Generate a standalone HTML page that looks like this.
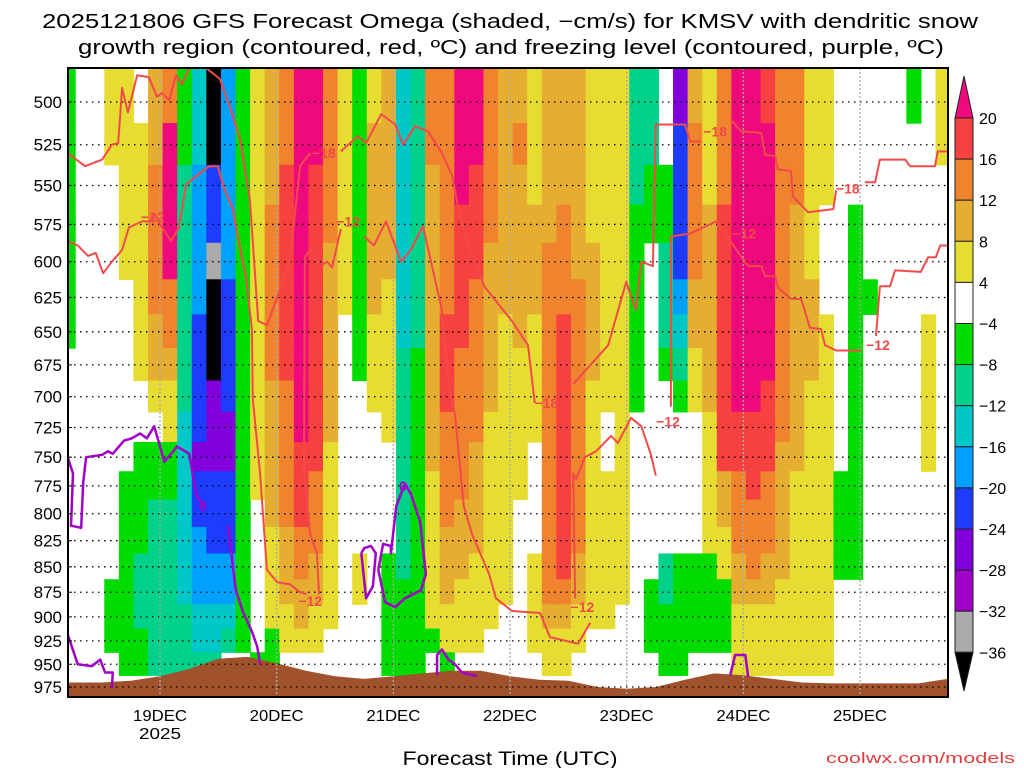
<!DOCTYPE html>
<html><head><meta charset="utf-8"><style>
html,body{margin:0;padding:0;background:#fff;}
svg{display:block;}
text{font-family:"Liberation Sans",sans-serif;}
</style></head><body>
<svg id="chart" width="1024" height="768" viewBox="0 0 1024 768" xmlns="http://www.w3.org/2000/svg">
<defs><clipPath id="plotclip"><rect x="68" y="68" width="880" height="629"/></clipPath></defs>
<text x="510" y="28" font-size="20" text-anchor="middle" textLength="936" lengthAdjust="spacingAndGlyphs">2025121806 GFS Forecast Omega (shaded, −cm/s) for KMSV with dendritic snow</text>
<text x="511" y="54" font-size="20" text-anchor="middle" textLength="866" lengthAdjust="spacingAndGlyphs">growth region (contoured, red, ºC) and freezing level (contoured, purple, ºC)</text>
<g id="cells" clip-path="url(#plotclip)"></g>
<g id="terrain" clip-path="url(#plotclip)"></g>
<g id="grid"></g>
<g id="contours" clip-path="url(#plotclip)"></g>
<rect x="68" y="68" width="880" height="629" fill="none" stroke="#000" stroke-width="2"/>
<g id="yaxis"></g>
<g id="xaxis"></g>
<text x="510" y="765" font-size="19" text-anchor="middle" textLength="215" lengthAdjust="spacingAndGlyphs">Forecast Time (UTC)</text>
<text x="1015" y="763" font-size="15" text-anchor="end" fill="#e03c3c" textLength="189" lengthAdjust="spacingAndGlyphs">coolwx.com/models</text>
<g id="colorbar"></g>
</svg>
<script>
// ---- data ----
const levels = [500,525,550,575,600,625,650,675,700,725,750,775,800,825,850,875,900,925,950,975];
const stepHours = 3;
const omega = [
[-6,-6,-6,-6,-6,-6,-6,0,0,0,0,0,0,0,0,0,0,0,0,0],
[0,0,0,0,0,0,0,0,0,0,0,0,0,0,0,0,0,0,0,0],
[0,0,0,0,0,0,0,0,0,0,0,0,0,0,0,0,0,0,0,0],
[6,6,0,0,0,0,0,0,0,0,0,0,0,0,0,-6,-6,-6,0,0],
[6,6,6,6,6,0,0,0,0,0,0,-6,-6,-6,-6,-6,-6,-6,-6,0],
[0,6,6,6,6,6,6,6,0,0,-6,-6,-6,-6,-10,-10,-10,-6,-6,0],
[10,10,14,14,14,14,10,10,6,0,-6,-6,-10,-10,-10,-10,-10,-10,-10,0],
[14,22,22,22,22,14,14,10,6,6,-6,-6,-10,-10,-10,-10,-10,-10,-10,0],
[-6,-6,-10,-10,-10,-10,-10,-10,-10,-14,-14,-14,-14,-14,-14,-14,-10,-10,-10,0],
[-14,-14,-18,-18,-18,-18,-22,-22,-22,-22,-26,-22,-22,-18,-18,-18,-14,-14,-10,0],
[-40,-40,-22,-22,-34,-40,-40,-40,-26,-26,-26,-22,-22,-22,-18,-18,-14,-14,-10,0],
[-18,-18,-18,-18,-18,-22,-22,-22,-22,-26,-26,-22,-22,-22,-18,-18,-14,-10,0,0],
[-6,-6,-6,-6,-6,-6,-6,-6,-6,-6,-6,-6,-6,-6,-6,-6,-6,-6,0,0],
[6,6,6,6,6,6,6,6,6,6,6,6,0,0,0,0,0,0,-6,0],
[10,10,10,14,14,14,14,14,10,10,10,10,10,6,6,6,6,-6,-6,0],
[14,14,18,18,18,18,18,18,14,14,14,14,14,10,10,10,6,6,0,0],
[22,22,22,22,22,22,22,22,22,22,18,18,18,14,14,10,10,6,0,0],
[22,22,18,18,18,18,18,18,18,18,18,14,14,14,10,10,6,6,0,0],
[14,14,14,14,10,10,10,10,10,10,6,6,6,6,6,6,6,0,0,0],
[6,6,6,6,6,6,0,0,0,0,0,0,0,0,0,0,0,0,0,0],
[-6,-6,-6,-6,-6,-6,-6,-6,0,0,0,0,0,0,6,6,0,0,0,0],
[6,10,10,10,10,10,6,6,6,0,0,0,0,0,0,0,0,0,0,0],
[10,10,10,10,10,6,6,6,6,6,0,0,0,0,-6,-6,-6,-6,-6,0],
[-14,-14,-14,-14,-14,-14,-14,-10,-10,-10,-10,-10,-10,-10,-10,-6,-6,-6,-6,0],
[-10,-10,-10,-10,-10,-10,-10,-6,-6,-6,-6,-6,-6,-6,-6,-6,-6,-6,-6,0],
[14,14,10,10,10,10,10,10,10,10,10,6,6,6,6,6,6,-6,0,0],
[14,14,14,14,14,14,18,18,18,14,14,14,14,10,10,10,6,6,-6,0],
[22,22,22,18,18,18,18,14,14,14,14,14,10,10,10,6,6,6,0,0],
[22,22,18,18,18,14,14,14,14,14,10,10,10,10,6,6,6,6,0,0],
[14,14,14,14,10,10,10,10,10,6,6,6,6,6,6,6,6,0,0,0],
[10,10,10,10,10,10,6,6,6,6,6,6,6,6,6,6,0,0,0,0],
[10,14,10,10,10,10,10,6,6,6,6,6,0,0,0,0,0,0,0,0],
[6,6,6,10,10,10,6,6,6,6,0,0,0,0,6,6,6,6,0,0],
[10,10,10,10,14,14,14,14,14,14,14,14,14,14,14,14,10,6,6,0],
[10,10,10,14,14,14,18,18,18,18,18,18,18,18,18,14,10,6,6,0],
[10,10,10,10,10,14,14,14,14,14,14,14,14,14,10,10,6,6,0,0],
[6,6,6,6,10,10,10,10,6,6,6,6,6,6,6,6,6,0,0,0],
[6,6,6,6,6,6,6,6,6,0,0,6,6,6,6,6,6,0,0,0],
[6,6,6,6,6,6,6,6,6,6,6,6,6,6,6,6,0,0,0,0],
[-10,-10,-10,-6,-6,-6,-6,-6,-6,0,0,0,0,0,0,0,0,0,0,0],
[-10,-10,-6,-6,0,0,0,0,0,0,0,0,0,0,0,-6,-6,-6,0,0],
[0,0,-6,-6,-10,-10,-10,-6,0,0,0,0,0,0,-10,-10,-6,-6,-6,0],
[-26,-22,-22,-22,-22,-18,-14,-10,-6,0,0,0,0,0,-6,-6,-6,-6,-6,0],
[10,14,14,14,14,10,10,6,6,0,0,0,0,0,-6,-6,-6,-6,0,0],
[6,6,6,10,10,10,10,10,10,6,6,6,6,6,-6,-6,-6,-6,0,0],
[14,14,14,18,18,18,18,18,18,18,18,10,10,6,6,-6,-6,-6,0,0],
[22,22,22,22,22,22,22,22,22,18,18,14,14,14,10,10,6,6,6,0],
[22,22,22,22,22,22,22,22,22,18,18,18,14,14,14,10,6,6,6,0],
[18,22,22,22,22,22,22,22,18,18,18,14,14,14,10,10,6,6,6,0],
[14,14,14,14,14,14,14,14,14,14,10,10,10,10,10,6,6,6,6,0],
[14,14,14,10,10,10,10,10,10,10,10,6,6,6,6,6,6,6,6,0],
[6,6,6,6,6,10,10,10,6,6,6,6,6,6,6,6,6,6,6,0],
[6,6,6,0,0,0,6,6,6,6,6,6,6,6,6,6,6,6,6,0],
[0,0,0,0,0,0,0,0,0,0,0,-6,-6,-6,-6,0,0,0,0,0],
[0,0,0,-6,-6,-6,-6,-6,-6,-6,-6,-6,-6,-6,-6,0,0,0,0,0],
[0,0,0,0,0,-6,0,0,0,0,0,0,0,0,0,0,0,0,0,0],
[0,0,0,0,0,0,0,0,0,0,0,0,0,0,0,0,0,0,0,0],
[0,0,0,0,0,0,0,0,0,0,0,0,0,0,0,0,0,0,0,0],
[-6,0,0,0,0,0,0,0,0,0,0,0,0,0,0,0,0,0,0,0],
[0,0,0,0,0,0,6,6,6,6,6,0,0,0,0,0,0,0,0,0],
[6,6,0,0,0,0,0,0,0,0,0,0,0,0,0,0,0,0,0,0]
];
const surfaceHours = [0,6,12,18,24,30,36,42,48,54,60,66,72,78,84,90,96,102,108,114,120,126,132,138,144,150,156,162,168,174,180];
const surfacePressure = [970,970,968,963,955,944,942,949,957,963,966,963,960,957,957,963,967,968,975,977,975,967,960,962,966,970,971,971,971,971,966];
const dayLabels = ["19DEC","20DEC","21DEC","22DEC","23DEC","24DEC","25DEC"];
const dayHours = [18,42,66,90,114,138,162];
const cbLevels = [20,16,12,8,4,-4,-8,-12,-16,-20,-24,-28,-32,-36];
const cbColors = ["#f74040","#ef832e","#e5ae31","#e6dc32","#ffffff","#00dc00","#00d28c","#00c8c8","#00a0ff","#1e3cff","#8200dc","#a000c8","#aaaaaa"];
// contours: [hours], [hPa]
const red18A_h=[-1,2.6,6.1,8.1,9.4,10.2,11.4,13.3,15.7,17.4,18.4,19.9,21.3,22.5,24];
const red18A_p=[530,538,534,525,524,492,506,485,486,497,495,499,485,490,481];
const red18B_h=[27.5,30.3,32.4,34.5,36.5,38.2,40,42.1,44.7,46.8,48.9];
const red18B_p=[481,487,503,522,559,642,645,625,600,538,530];
const red18C_h=[55.2,58.7,60.4,63.5,66.4,68,70.5,73.1,76,78.1,79.7,82.2,84.7,90.4,93.7,95.1];
const red18C_p=[529,520,524,507,513,525,514,517,530,544,570,594,617,642,660,705];
const red18D_h=[103,110.2,113.9,115.9,117,119.4,120,126,127.1,129.3];
const red18D_p=[690,660,614,634,600,603,513,513,523,523];
const red18E_h=[135.3,137.6,141.7,142.5,144.6,145.1,147.8,148.2,151.3,156.5,157.1];
const red18E_p=[510,517,518,531,532,540,541,557,567,565,553];
const red18F_h=[163,165.1,166.1,171.3,172.3,177.4,178,180.2];
const red18F_p=[548,548,534,534,538,538,529,529];
const red12A_h=[-1,1.1,3.2,4.8,6.3,8.1,10.2,11.6,14.3,15.9,16.8,18.2,20.3,21.9,23.4,28.1,29.9,31.2,33,34,35.7,36.9,37.1,38.6,40,42.1,44.7,46.8,48.2];
const red12A_p=[586,589,596,594,608,600,592,577,573,573,568,576,586,577,549,538,538,552,565,583,611,648,702,764,853,865,867,875,877];
const red12B_h=[50.7,50.3,48.9,47.6,47.8,48.9,50.9,52.4,53.4,55.2];
const red12B_p=[877,837,819,764,597,592,603,600,604,578];
const red12C_h=[60,62,64.5,67.6,69.6,72.1,76,77.3,78.7,80.5,82.2,85.7,87.1,90.4,96.2,98.2,104,106.5];
const red12C_p=[583,589,573,600,592,576,634,688,715,793,819,857,881,894,896,921,928,906];
const red12D_h=[103.4,103,103.6,105.4,107.7,110.8,112.2,114.9,117,119,120];
const red12D_p=[881,764,769,750,745,732,738,717,724,748,766];
const red12E_h=[123.1,123.1,127.1,132.4,139,141.7,142.5,144.6,145.1,147.8,149.9,151.7,154,154.8,157.1,162.2];
const red12E_p=[708,583,581,573,603,603,610,610,618,626,626,647,648,660,664,664];
const red12F_h=[165.3,166.1,168.2,169.2,174.5,176,177.6,178.5,180.2];
const red12F_p=[653,617,617,606,607,597,597,589,589];
const pur0A_h=[-1,0.1,-0.3,1.8,2.2,2.8,6.1,7.3,8.3,10.6,12.2,13.9,15.3,16.8,18.9,20.5,21.5,24,25.4,26.8];
const pur0A_p=[750,764,811,813,772,750,748,745,747,736,734,730,734,724,754,746,741,747,782,793];
const pur0B_h=[32,33.6,35,36.9,38,38.6];
const pur0B_p=[811,873,894,915,931,950];
const pur0C_h=[-1,1.1,4,5.7,6.7,8.3,8.1];
const pur0C_p=[918,950,952,945,959,959,976];
const pur0D_h=[59.4,60.4,61.8,62.4,61.4,60,59.4];
const pur0D_p=[837,881,869,837,830,832,837];
const pur0E_h=[62.9,63.9,65.5,65.5,66.6,68.4,69.6,71.5,72.7,71.7,68.4,66.4,64.3,62.9];
const pur0E_p=[853,828,830,837,793,773,782,807,857,873,881,890,885,853];
const pur0F_h=[75,75,76,77.3,78.7,80.1,83.2];
const pur0F_p=[962,940,934,945,950,959,963];
const pur0G_h=[135.3,136.3,138.4,139];
const pur0G_p=[962,940,940,964];
const redLabelText=["−18","−12","−18","−12","−12","−18","−12","−12","−18","−12","−12"];
const redLabelH=[51.7,56.7,97.5,104.9,48.9,132.2,122.5,138.2,159.5,165.7,16.5];
const redLabelP=[530,573,705,890,884,517,720,581,552,660,570];
const purLabelH=[26.8,68];
const purLabelP=[793,775];

// ---- scales ----
const NS="http://www.w3.org/2000/svg";
const X0=68,X1=948,Y0=68,Y1=697;
const cellShift=-0.9;
function xOf(h){return 160+(h-18)*116.667/24;}
function yOf(p){return 102+876*Math.log(p/500);}
function colorOf(v){
  if(v>=20)return "#ee0a7d"; if(v>=16)return "#f74040"; if(v>=12)return "#ef832e";
  if(v>=8)return "#e5ae31"; if(v>=4)return "#e6dc32"; if(v>-4)return null;
  if(v>-8)return "#00dc00"; if(v>-12)return "#00d28c"; if(v>-16)return "#00c8c8";
  if(v>-20)return "#00a0ff"; if(v>-24)return "#1e3cff"; if(v>-28)return "#8200dc";
  if(v>-32)return "#a000c8"; if(v>-36)return "#aaaaaa"; return "#000000";
}
function mk(tag,attrs,parent){const e=document.createElementNS(NS,tag);for(const k in attrs)e.setAttribute(k,attrs[k]);parent.appendChild(e);return e;}

// ---- shading ----
const gCells=document.getElementById('cells');
const bounds=[];
for(let i=0;i<=levels.length;i++){
  if(i===0)bounds.push(Y0-2);
  else if(i===levels.length)bounds.push(Y1+2);
  else bounds.push((yOf(levels[i-1])+yOf(levels[i]))/2);
}
omega.forEach((col,j)=>{
  const xa=xOf(j*stepHours-stepHours/2+cellShift), xb=xOf(j*stepHours+stepHours/2+cellShift);
  col.forEach((v,i)=>{
    const c=colorOf(v); if(!c)return;
    const r=mk('rect',{x:xa-0.3,y:bounds[i]-0.3,width:xb-xa+0.6,height:bounds[i+1]-bounds[i]+0.6,fill:c},gCells);
    
    
  });
});

// ---- terrain ----
const gT=document.getElementById('terrain');
let pts=[[X0-2,Y1+2],[X0-2,yOf(surfacePressure[0])]];
surfaceHours.forEach((h,k)=>pts.push([xOf(h),yOf(surfacePressure[k])]));
pts.push([X1+2,yOf(surfacePressure[surfacePressure.length-1])],[X1+2,Y1+2]);
const terr=mk('polygon',{points:pts.map(p=>p[0].toFixed(1)+','+p[1].toFixed(1)).join(' '),fill:"#a0522d"},gT);



// ---- grid ----
const gG=document.getElementById('grid');
levels.forEach(p=>{
  const l=mk('line',{x1:X0,x2:X1,y1:yOf(p),y2:yOf(p),stroke:"#000","stroke-width":1.3,"stroke-dasharray":"1.5,4.5"},gG);
  
  
});
dayHours.forEach(h=>{
  const l=mk('line',{x1:xOf(h),x2:xOf(h),y1:Y0,y2:Y1,stroke:"#aaa","stroke-width":1.3,"stroke-dasharray":"2,2"},gG);
  
  
});

// ---- contours ----
const gC=document.getElementById('contours');
function line(hs,ps,color,w,name){
  const d=hs.map((h,k)=>(k?'L':'M')+xOf(h).toFixed(1)+','+yOf(ps[k]).toFixed(1)).join('');
  const e=mk('path',{d:d,fill:"none",stroke:color,"stroke-width":w,"stroke-linejoin":"round"},gC);
  
  
}
const RED="#f24a4a",PUR="#a000c8";
[[red18A_h,red18A_p],[red18B_h,red18B_p],[red18C_h,red18C_p],[red18D_h,red18D_p],[red18E_h,red18E_p],[red18F_h,red18F_p]].forEach(a=>line(a[0],a[1],RED,2,'contour-minus18'));
[[red12A_h,red12A_p],[red12B_h,red12B_p],[red12C_h,red12C_p],[red12D_h,red12D_p],[red12E_h,red12E_p],[red12F_h,red12F_p]].forEach(a=>line(a[0],a[1],RED,2,'contour-minus12'));
[[pur0A_h,pur0A_p],[pur0B_h,pur0B_p],[pur0C_h,pur0C_p],[pur0D_h,pur0D_p],[pur0E_h,pur0E_p],[pur0F_h,pur0F_p],[pur0G_h,pur0G_p]].forEach(a=>line(a[0],a[1],PUR,2.5,'freezing-level-contour'));
redLabelText.forEach((t,k)=>{
  const e=mk('text',{x:xOf(redLabelH[k]),y:yOf(redLabelP[k])+5,"font-size":14,"font-weight":"bold",fill:RED,"text-anchor":"middle"},gC);
  e.textContent=t;
  
  
});
purLabelH.forEach((h,k)=>{
  const e=mk('text',{x:xOf(h),y:yOf(purLabelP[k])+5,"font-size":14,"font-weight":"bold",fill:PUR,"text-anchor":"middle"},gC);
  e.textContent="0";
  
  
});

// ---- axes ----
const gY=document.getElementById('yaxis');
levels.forEach(p=>{
  const t=mk('text',{x:62,y:yOf(p)+6,"font-size":17,"text-anchor":"end"},gY);
  t.textContent=String(p);
  
  
  const tk=mk('line',{x1:X0,x2:X0+4,y1:yOf(p),y2:yOf(p),stroke:"#000","stroke-width":1},gY);
  
  
});
const gX=document.getElementById('xaxis');
dayLabels.forEach((d,k)=>{
  const t=mk('text',{x:xOf(dayHours[k]),y:721,"font-size":16,"text-anchor":"middle",textLength:54,lengthAdjust:"spacingAndGlyphs"},gX);
  t.textContent=d;
  
  
});
const yr=mk('text',{x:xOf(dayHours[0]),y:739,"font-size":16,"text-anchor":"middle",textLength:42,lengthAdjust:"spacingAndGlyphs"},gX);
yr.textContent="2025";



// ---- colorbar ----
const gB=document.getElementById('colorbar');
const CB_TOP=118,CB_STEP=41.1,CBX=955,CBW=18;
function cbY(k){return CB_TOP+k*CB_STEP;}
const tri1=mk('polygon',{points:`${CBX},${CB_TOP} ${CBX+CBW},${CB_TOP} ${CBX+CBW/2},76`,fill:"#ee0a7d",stroke:"#222","stroke-width":1},gB);


cbColors.forEach((c,k)=>{
  const r=mk('rect',{x:CBX,y:cbY(k),width:CBW,height:CB_STEP,fill:c,stroke:"#222","stroke-width":1},gB);
  
  
});
const yb=cbY(cbColors.length);
const tri2=mk('polygon',{points:`${CBX},${yb} ${CBX+CBW},${yb} ${CBX+CBW/2},691`,fill:"#000",stroke:"#222","stroke-width":1},gB);


cbLevels.forEach((v,k)=>{
  const t=mk('text',{x:979,y:cbY(k)+6,"font-size":16},gB);
  t.textContent=(v<0?"−":"")+Math.abs(v);
  
  
});
</script>
</body></html>
